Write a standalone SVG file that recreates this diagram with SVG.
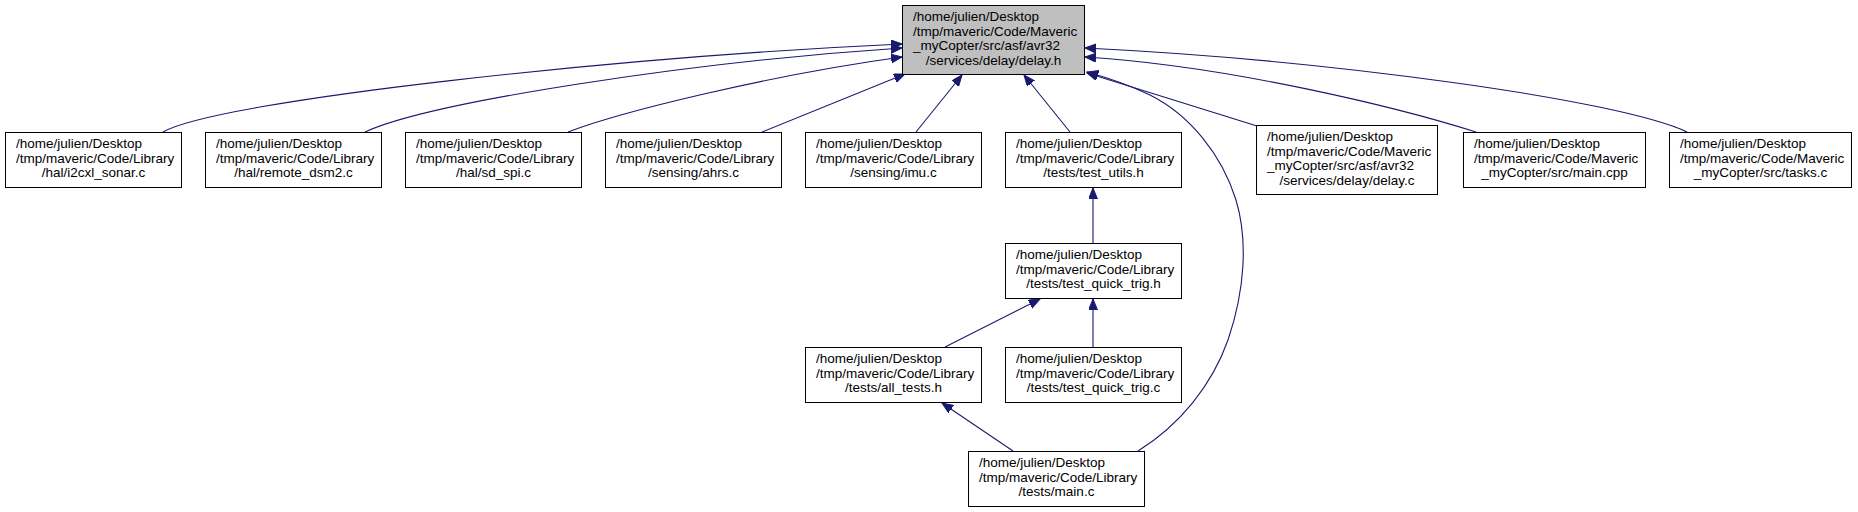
<svg xmlns="http://www.w3.org/2000/svg" width="1858" height="512" viewBox="0 0 1858 512">
<style>
.n rect{fill:#ffffff;stroke:#000000;stroke-width:1}
.n.root rect{fill:#bfbfbf}
.n text{font-family:"Liberation Sans",Arial,sans-serif;font-size:13.5px;fill:#000000}
.n text.c{text-anchor:middle}
.e path{fill:none;stroke:#191970;stroke-width:1.1;marker-end:url(#ah)}
</style>
<defs>
<marker id="ah" markerWidth="12" markerHeight="10" refX="11" refY="4.5" orient="auto" markerUnits="userSpaceOnUse">
<path d="M0,0 L11,4.5 L0,9 z" fill="#191970" stroke="#191970" stroke-width="1"/>
</marker>
</defs>
<rect width="1858" height="512" fill="#ffffff"/>
<g id="edges" class="e">
<path d="M163,132 C220,100 620,57 902,44"/>
<path d="M365,132 C430,102 690,62 902,48"/>
<path d="M568,132 C620,112 770,75 902,57"/>
<path d="M762,132 L905,74"/>
<path d="M916,132 L962,75"/>
<path d="M1070,132 L1024,75"/>
<path d="M1257,126 L1087,73"/>
<path d="M1476,132 C1400,108 1230,66 1085,57"/>
<path d="M1687,132 C1620,100 1330,60 1085,48"/>
<path d="M1138,451 C1180,425 1212,385 1228,340 C1245,290 1248,240 1236,200 C1222,155 1190,115 1150,95 C1125,83 1105,77 1087,72"/>
<path d="M1093,243 L1093,188"/>
<path d="M1093,347 L1093,299"/>
<path d="M945,347 L1040,299"/>
<path d="M1013,451 L942,403"/>
</g>
<g id="root" class="n root">
<rect x="902.5" y="5.5" width="182" height="69"/>
<text x="913" y="21">/home/julien/Desktop</text>
<text x="913" y="35.5">/tmp/maveric/Code/Maveric</text>
<text x="913" y="50">_myCopter/src/asf/avr32</text>
<text class="c" x="993.5" y="64.5">/services/delay/delay.h</text>
</g>
<g id="i2cxl_sonar" class="n">
<rect x="5.5" y="132.5" width="176" height="55"/>
<text x="16" y="148">/home/julien/Desktop</text>
<text x="16" y="162.5">/tmp/maveric/Code/Library</text>
<text class="c" x="93.5" y="177">/hal/i2cxl_sonar.c</text>
</g>
<g id="remote_dsm2" class="n">
<rect x="205.5" y="132.5" width="176" height="55"/>
<text x="216" y="148">/home/julien/Desktop</text>
<text x="216" y="162.5">/tmp/maveric/Code/Library</text>
<text class="c" x="293.5" y="177">/hal/remote_dsm2.c</text>
</g>
<g id="sd_spi" class="n">
<rect x="405.5" y="132.5" width="176" height="55"/>
<text x="416" y="148">/home/julien/Desktop</text>
<text x="416" y="162.5">/tmp/maveric/Code/Library</text>
<text class="c" x="493.5" y="177">/hal/sd_spi.c</text>
</g>
<g id="ahrs" class="n">
<rect x="605.5" y="132.5" width="176" height="55"/>
<text x="616" y="148">/home/julien/Desktop</text>
<text x="616" y="162.5">/tmp/maveric/Code/Library</text>
<text class="c" x="693.5" y="177">/sensing/ahrs.c</text>
</g>
<g id="imu" class="n">
<rect x="805.5" y="132.5" width="176" height="55"/>
<text x="816" y="148">/home/julien/Desktop</text>
<text x="816" y="162.5">/tmp/maveric/Code/Library</text>
<text class="c" x="893.5" y="177">/sensing/imu.c</text>
</g>
<g id="test_utils" class="n">
<rect x="1005.5" y="132.5" width="176" height="55"/>
<text x="1016" y="148">/home/julien/Desktop</text>
<text x="1016" y="162.5">/tmp/maveric/Code/Library</text>
<text class="c" x="1093.5" y="177">/tests/test_utils.h</text>
</g>
<g id="delay_c" class="n">
<rect x="1256.5" y="125.5" width="181" height="69"/>
<text x="1267" y="141">/home/julien/Desktop</text>
<text x="1267" y="155.5">/tmp/maveric/Code/Maveric</text>
<text x="1267" y="170">_myCopter/src/asf/avr32</text>
<text class="c" x="1347" y="184.5">/services/delay/delay.c</text>
</g>
<g id="main_cpp" class="n">
<rect x="1463.5" y="132.5" width="182" height="55"/>
<text x="1474" y="148">/home/julien/Desktop</text>
<text x="1474" y="162.5">/tmp/maveric/Code/Maveric</text>
<text class="c" x="1554.5" y="177">_myCopter/src/main.cpp</text>
</g>
<g id="tasks_c" class="n">
<rect x="1669.5" y="132.5" width="182" height="55"/>
<text x="1680" y="148">/home/julien/Desktop</text>
<text x="1680" y="162.5">/tmp/maveric/Code/Maveric</text>
<text class="c" x="1760.5" y="177">_myCopter/src/tasks.c</text>
</g>
<g id="test_quick_trig_h" class="n">
<rect x="1005.5" y="243.5" width="176" height="55"/>
<text x="1016" y="259">/home/julien/Desktop</text>
<text x="1016" y="273.5">/tmp/maveric/Code/Library</text>
<text class="c" x="1093.5" y="288">/tests/test_quick_trig.h</text>
</g>
<g id="all_tests_h" class="n">
<rect x="805.5" y="347.5" width="176" height="55"/>
<text x="816" y="363">/home/julien/Desktop</text>
<text x="816" y="377.5">/tmp/maveric/Code/Library</text>
<text class="c" x="893.5" y="392">/tests/all_tests.h</text>
</g>
<g id="test_quick_trig_c" class="n">
<rect x="1005.5" y="347.5" width="176" height="55"/>
<text x="1016" y="363">/home/julien/Desktop</text>
<text x="1016" y="377.5">/tmp/maveric/Code/Library</text>
<text class="c" x="1093.5" y="392">/tests/test_quick_trig.c</text>
</g>
<g id="main_c" class="n">
<rect x="968.5" y="451.5" width="176" height="55"/>
<text x="979" y="467">/home/julien/Desktop</text>
<text x="979" y="481.5">/tmp/maveric/Code/Library</text>
<text class="c" x="1056.5" y="496">/tests/main.c</text>
</g>
</svg>
